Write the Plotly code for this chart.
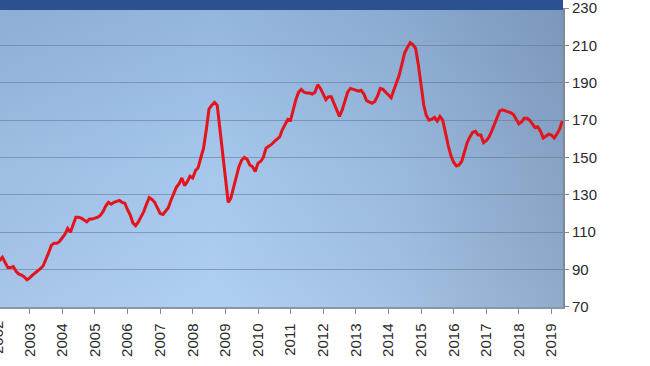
import base64
import pandas as pd
import plotly.graph_objects as go

# Monthly index values, Jan 2002 .. May 2019
start_month = "2002-01-01"
values = [
    94, 95, 96.5, 94, 91, 91, 91.5, 89, 87.5, 87, 86, 84.5,            # 2002
    85.5, 87, 88, 89.5, 90.5, 92, 95, 99, 103, 104, 104, 105,          # 2003
    107, 109, 112, 110, 114, 118, 118, 117.5, 116.5, 115.5, 117, 117,  # 2004
    117.5, 118, 119, 121, 124, 126, 125, 126, 126.5, 127, 126, 125.5,  # 2005
    122, 119, 115, 113.5, 115.5, 118, 121, 125, 128.5, 127.5, 126, 123,  # 2006
    120, 119.5, 121, 123, 127, 131, 134, 136, 139, 135, 137, 140,      # 2007
    139, 143, 144.5, 150, 155, 165, 176, 178, 179.5, 178, 165, 150,    # 2008
    136, 126, 128, 134, 140, 145, 148.5, 150, 149, 146, 145, 142.5,    # 2009
    147, 148, 150, 155, 156, 157, 158.5, 160, 161, 165, 168, 170.5,    # 2010
    170, 176, 181, 185, 186.5, 185, 184.5, 184.5, 184, 185, 189, 187,  # 2011
    183.5, 181, 182.5, 182.5, 179, 175, 172, 175.5, 181, 185, 187, 186.5,  # 2012
    186, 185.5, 186, 184, 180.5, 179.5, 179, 180, 183, 187, 186.5, 185,    # 2013
    183.5, 182, 186, 190, 194, 200, 206, 209, 211.5, 210.5, 208.5, 200,    # 2014
    188, 178, 172.5, 170, 170.5, 171.5, 169.5, 172, 170, 163, 156.5, 151,  # 2015
    147.5, 145.5, 146, 148, 153, 158, 161, 163.5, 164, 162, 162, 158,      # 2016
    159, 161, 164, 167.5, 171.5, 175, 175.5, 175, 174.5, 174, 173, 170.5,  # 2017
    168, 169, 171, 171, 170, 168, 166, 166.5, 164, 160.5, 161.5, 162.5,    # 2018
    162, 160.5, 162.5, 165, 169.5,                                         # 2019
]
dates = pd.date_range(start_month, periods=len(values), freq="MS")

y_ticks = [70, 90, 110, 130, 150, 170, 190, 210, 230]
cut_year_label = "2002"

W, H = 650, 366
ML, MR, MT, MB = 0, 87, 8, 59
PW, PH = W - ML - MR, H - MT - MB

# gradient background for the plot area (SVG data URI)
svg = f"""<svg xmlns='http://www.w3.org/2000/svg' width='{PW}' height='{PH}' preserveAspectRatio='none'>
<defs>
<linearGradient id='h' x1='0' y1='0' x2='1' y2='0'>
<stop offset='0' stop-color='#a2c2e7'/>
<stop offset='0.38' stop-color='#abcdf1'/>
<stop offset='0.7' stop-color='#9ebee2'/>
<stop offset='1' stop-color='#8aa6c7'/>
</linearGradient>
<linearGradient id='v' x1='0' y1='0' x2='0' y2='1'>
<stop offset='0' stop-color='#3c5a8a' stop-opacity='0.2'/>
<stop offset='0.55' stop-color='#3c5a8a' stop-opacity='0.04'/>
<stop offset='1' stop-color='#ffffff' stop-opacity='0.06'/>
</linearGradient>
</defs>
<rect width='100%' height='100%' fill='url(#h)'/>
<rect width='100%' height='100%' fill='url(#v)'/>
</svg>"""
bg_src = "data:image/svg+xml;base64," + base64.b64encode(svg.encode()).decode()

fig = go.Figure()
fig.add_trace(go.Scatter(
    x=dates, y=values, mode="lines",
    line=dict(color="#e3141c", width=3),
    hoverinfo="skip", showlegend=False,
))

fig.update_layout(
    width=W, height=H,
    margin=dict(l=ML, r=MR, t=MT, b=MB, autoexpand=False),
    paper_bgcolor="white",
    plot_bgcolor="#a3c3e8",
    font=dict(family="Liberation Sans, Arial, sans-serif", size=15, color="#2a2a2a"),
    images=[dict(source=bg_src, xref="paper", yref="paper", x=0, y=1,
                 sizex=1, sizey=1, sizing="stretch", layer="below",
                 xanchor="left", yanchor="top")],
    shapes=[dict(type="rect", xref="paper", yref="paper",
                 x0=0, x1=1, y0=1 - 2 / PH, y1=1 + MT / PH,
                 fillcolor="#2b5193", line=dict(width=0), layer="above")],
    annotations=[dict(text=cut_year_label, xref="paper", yref="paper",
                      x=-3 / PW, y=-31 / PH, textangle=-90, showarrow=False,
                      xanchor="center", yanchor="middle",
                      font=dict(size=15, color="#2a2a2a"))],
)

fig.update_xaxes(
    type="date",
    range=["2002-02-02", "2019-05-10"],
    tick0="2002-01-01", dtick="M12", tickformat="%Y",
    tickangle=-90,
    ticks="outside", ticklen=5, tickcolor="#8a8a8a",
    ticklabelstandoff=4,
    showgrid=False, zeroline=False,
    showline=True, linecolor="#8a96a6", linewidth=1.5,
)
fig.update_yaxes(
    side="right",
    range=[69.9, 230.1],
    tickvals=y_ticks,
    ticklabeloverflow="allow",
    ticks="outside", ticklen=4, tickcolor="#8a8a8a",
    showgrid=True, gridcolor="rgba(95,115,145,0.55)", gridwidth=1,
    zeroline=False,
    showline=True, linecolor="#7f8a98", linewidth=2,
)

fig.write_html("out.html",
               config={"displayModeBar": False, "staticPlot": True},
               post_script="document.body.style.margin='0';document.body.style.overflow='hidden';")
